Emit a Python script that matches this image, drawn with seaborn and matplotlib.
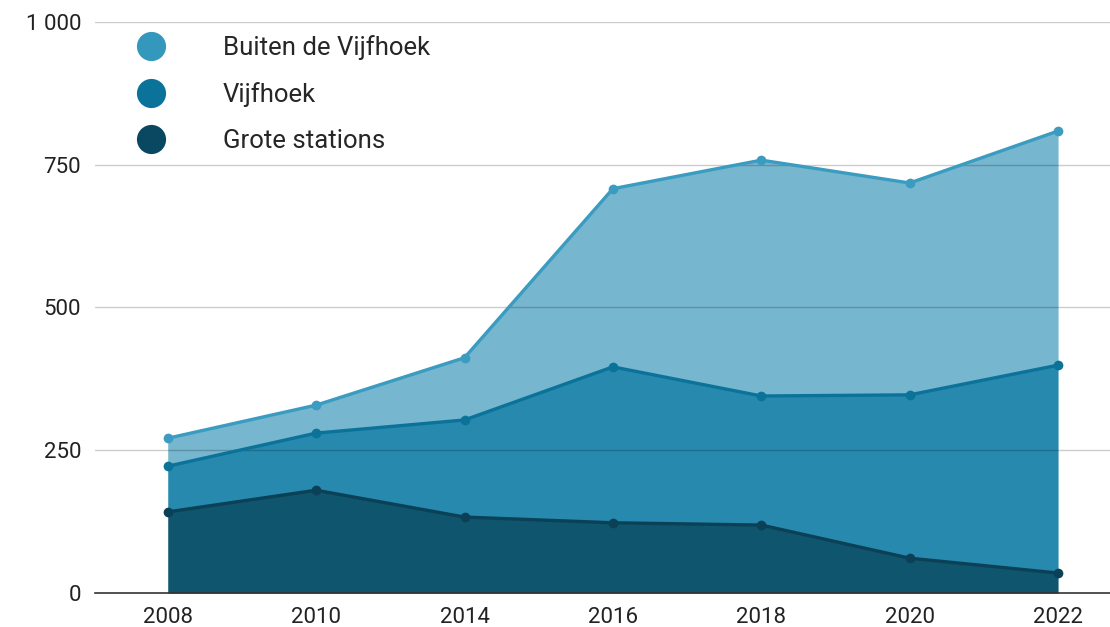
import numpy as np
import pandas as pd
import seaborn as sns
import matplotlib.pyplot as plt
from matplotlib.lines import Line2D

# data
years = ["2008", "2010", "2014", "2016", "2018", "2020", "2022"]
grote_stations = [142, 180, 133, 123, 119, 61, 35]
vijfhoek = [80, 100, 170, 273, 226, 286, 364]
buiten_vijfhoek = [49, 49, 109, 312, 413, 371, 410]

series = ["Grote stations", "Vijfhoek", "Buiten de Vijfhoek"]
line_colors = {"Grote stations": "#0a4157", "Vijfhoek": "#0b7399", "Buiten de Vijfhoek": "#3a9cc0"}
fill_colors = {"Grote stations": "#0f556e", "Vijfhoek": "#2789ad", "Buiten de Vijfhoek": "#76b6cf"}
legend_colors = {"Grote stations": "#0a4760", "Vijfhoek": "#0b7399", "Buiten de Vijfhoek": "#3498bd"}

sns.set_theme(style="white")
plt.rcParams["font.family"] = ["Roboto", "DejaVu Sans"]

# stacked totals
stack = np.cumsum(np.array([grote_stations, vijfhoek, buiten_vijfhoek]), axis=0)
pos = np.arange(len(years))

df = pd.DataFrame({
    "pos": np.tile(pos, 3),
    "value": stack.ravel(),
    "serie": np.repeat(series, len(years)),
})

fig = plt.figure(figsize=(11.1, 6.27), dpi=100)
ax = fig.add_axes([0.0856, 0.0542, 0.9144, 0.9108])

lower = np.zeros(len(years))
for i, s in enumerate(series):
    ax.fill_between(pos, lower, stack[i], color=fill_colors[s], linewidth=0, zorder=1)
    lower = stack[i]

sns.lineplot(
    data=df, x="pos", y="value", hue="serie", palette=line_colors,
    linewidth=2.4, marker="o", markersize=7, markeredgewidth=0,
    legend=False, ax=ax, zorder=3,
)

# grid on top of the areas, faint
for yv in [250, 500, 750, 1000]:
    ax.axhline(yv, color="black", alpha=0.2, linewidth=1, zorder=2)

ax.set_xlim(-0.49, 6.35)
ax.set_ylim(0, 1000)
ax.set_xticks(pos)
ax.set_xticklabels(years)
ax.set_yticks([0, 250, 500, 750, 1000])
ax.set_yticklabels(["0", "250", "500", "750", "1 000"])
ax.set_xlabel("")
ax.set_ylabel("")
ax.tick_params(axis="both", labelsize=16, colors="#222222", length=0, pad=10)

for side in ["top", "right", "left"]:
    ax.spines[side].set_visible(False)
ax.spines["bottom"].set_color("#333333")
ax.spines["bottom"].set_linewidth(1.2)
ax.spines["bottom"].set_zorder(4)

handles = [
    Line2D([], [], linestyle="none", marker="o", markersize=21,
           markerfacecolor=legend_colors[s], markeredgewidth=0, label=s)
    for s in reversed(series)
]
ax.legend(handles=handles, loc="upper left", bbox_to_anchor=(0.017, 1.0),
          frameon=False, fontsize=18.5, handletextpad=1.8, labelspacing=0.86,
          borderaxespad=0.1)

fig.savefig("out.png", dpi=100)
